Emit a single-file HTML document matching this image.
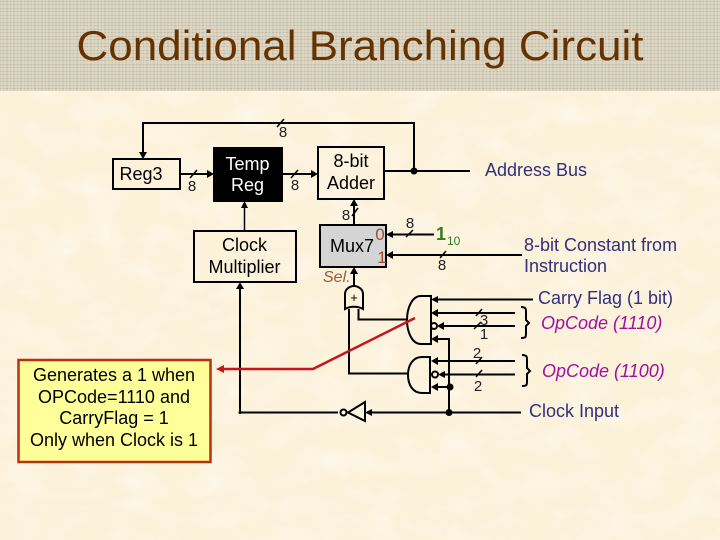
<!DOCTYPE html>
<html><head><meta charset="utf-8"><style>
html,body{margin:0;padding:0;background:#fdf3dc}
svg{display:block}
text{font-family:"Liberation Sans",sans-serif}
</style></head><body>
<svg xmlns="http://www.w3.org/2000/svg" width="720" height="540" viewBox="0 0 720 540">
<defs>
<pattern id="h" width="7" height="7" patternUnits="userSpaceOnUse">
<rect width="7" height="7" fill="#d6cfbc"/>
<path d="M0 1.500H7M0 4.500H7" stroke="#c4bca8" stroke-width="1"/>
<path d="M2 0V7M5 0V7" stroke="#e2dccb" stroke-width="1"/>
</pattern>
<filter id="m" x="0" y="0" width="100%" height="100%">
<feTurbulence type="fractalNoise" baseFrequency="0.025 0.04" numOctaves="3" seed="4"/>
<feColorMatrix values="0 0 0 0 1 0 0 0 0 0.97 0 0 0 0 0.89 1.6 0 0 0 -0.6"/>
</filter>
</defs>
<rect width="720" height="540" fill="#fcf1d9"/>
<rect width="720" height="540" filter="url(#m)" opacity="0.7"/>
<rect width="720" height="91" fill="url(#h)"/>
<text x="360" y="60" font-size="41.5" fill="#663300" text-anchor="middle" textLength="567" lengthAdjust="spacingAndGlyphs">Conditional Branching Circuit</text>

<!-- boxes -->
<g stroke="#000" stroke-width="2" fill="none">
<rect x="113" y="159" width="67" height="30"/>
<rect x="214" y="148" width="68" height="53" fill="#000"/>
<rect x="318" y="147" width="66" height="52"/>
<rect x="320" y="225" width="66" height="42" fill="#d4d4d4"/>
<rect x="194" y="231" width="102" height="51"/>
</g>
<rect x="18.500" y="360" width="192" height="102" fill="#ffff99" stroke="#b8300f" stroke-width="2.500"/>

<!-- wires -->
<g stroke="#000" stroke-width="2" fill="none">
<path d="M143 156V123H414V171"/>
<path d="M180 174H208"/>
<path d="M282 174H311"/>
<path d="M384 171H470"/>
<path d="M354 225V205"/>
<path d="M244.500 231V206" stroke-width="1.500"/>
<path d="M434 234.500H393"/>
<path d="M522 255H393"/>
<path d="M354 286V273"/>
<path d="M240 413V288"/>
<path d="M240 412.500H338"/>
<path d="M521 412.500H372"/>
<path d="M533 299.500H437"/>
<path d="M515 313H437"/>
<path d="M515 326H440"/>
<path d="M449 412.500V339H437"/>
<path d="M515 361H437"/>
<path d="M515 374.500H440"/>
<path d="M449 387H437"/>
<path d="M349 309V373.500H408"/>
<path d="M358.500 309V319.500H407"/>
<path d="M431 296H421C412 296 407 308 407 320C407 332 412 344 421 344H431Z"/>
<path d="M430 357H422C413 357 408 365 408 375C408 385 413 393 422 393H430Z"/>
<path d="M345 309V294C345 289 350 286 354 286C358 286 363 289 363 294V309C358 306 350 306 345 309Z"/>
<path d="M365 402L348 412.500L365 421Z"/>
<circle cx="343.500" cy="412.500" r="3"/>
<circle cx="434" cy="326" r="3"/>
<circle cx="435" cy="374.500" r="3"/>
<!-- braces -->
<path d="M521 307C526 307 526 309 526 312V320L529 323L526 326V333C526 337 526 338 521 338"/>
<path d="M522 355C527 355 527 357 527 360V368L530 371L527 374V381C527 385 527 386 522 386"/>
<!-- slashes -->
<g stroke-width="1.500">
<path d="M277 127L284 119M190 178L197 170M291 178L298 170M352 216L358 208M406 237L413 230M440 258L446 251M476 316L482 309M474 329L481 322M476 364L482 357M476 377L482 370"/>
</g>
</g>
<!-- dots -->
<g fill="#000">
<circle cx="414" cy="171" r="3.500"/>
<circle cx="449" cy="412.500" r="3.500"/>
<circle cx="450" cy="387" r="3.500"/>
<circle cx="240" cy="412.500" r="1.500"/>
<!-- arrowheads -->
<path d="M143 159L139 152H147Z"/>
<path d="M214 174L207 170V178Z"/>
<path d="M318 174L311 170V178Z"/>
<path d="M354 199L350 206H358Z"/>
<path d="M244.500 201L241 208H248Z"/>
<path d="M386 234.500L393 231V238Z"/>
<path d="M386 255L393 251V259Z"/>
<path d="M354 267L350 274H358Z"/>
<path d="M240 282L236 289H244Z"/>
<path d="M431 299.500L438 296V303Z"/>
<path d="M431 313L438 309V317Z"/>
<path d="M437 326L444 322V330Z"/>
<path d="M431 339L438 335V343Z"/>
<path d="M431 361L438 357V365Z"/>
<path d="M438 374.500L445 371V378Z"/>
<path d="M431 387L438 383V391Z"/>
<path d="M365 412.500L372 409V416Z"/>
</g>
<!-- red pointer -->
<path d="M415 318L313 369H222" fill="none" stroke="#c8141e" stroke-width="2.500"/>
<path d="M216 369L224 365V373Z" fill="#c8141e"/>

<!-- labels -->
<g font-size="18" fill="#000" text-anchor="middle">
<text x="141" y="180">Reg3</text>
<text x="247.500" y="170" fill="#fff">Temp</text>
<text x="247.500" y="191" fill="#fff">Reg</text>
<text x="351" y="167">8-bit</text>
<text x="351" y="189">Adder</text>
<text x="352" y="252">Mux7</text>
<text x="244.500" y="251">Clock</text>
<text x="244.500" y="273">Multiplier</text>
<text x="114" y="381">Generates a 1 when</text>
<text x="114" y="403">OPCode=1110 and</text>
<text x="114" y="424">CarryFlag = 1</text>
<text x="114" y="446">Only when Clock is 1</text>
</g>
<g font-size="15" fill="#222" text-anchor="middle">
<text x="283" y="137">8</text>
<text x="192" y="191">8</text>
<text x="295" y="190">8</text>
<text x="346" y="220">8</text>
<text x="410" y="228">8</text>
<text x="442" y="270">8</text>
<text x="484" y="325">3</text>
<text x="484" y="339">1</text>
<text x="477" y="358">2</text>
<text x="478" y="391">2</text>
</g>
<text x="380" y="240" font-size="17" fill="#a04a38" text-anchor="middle">0</text>
<text x="382" y="263" font-size="17" fill="#a04a38" text-anchor="middle">1</text>
<text x="323" y="282" font-size="16" font-style="italic" fill="#a0583c">Sel.</text>
<text x="354" y="302" font-size="13" fill="#000" text-anchor="middle">+</text>
<text x="436" y="240" font-size="18" font-weight="bold" fill="#2e7d1e">1</text>
<text x="447" y="245" font-size="12" fill="#2e7d1e">10</text>
<g font-size="18" fill="#33307a">
<text x="485" y="176">Address Bus</text>
<text x="524" y="251">8-bit Constant from</text>
<text x="524" y="272">Instruction</text>
<text x="538" y="304">Carry Flag (1 bit)</text>
<text x="529" y="417">Clock Input</text>
</g>
<g font-size="18" font-style="italic" fill="#a0109c">
<text x="541" y="329">OpCode (1110)</text>
<text x="542" y="377">OpCode (1100)</text>
</g>
</svg>
</body></html>
